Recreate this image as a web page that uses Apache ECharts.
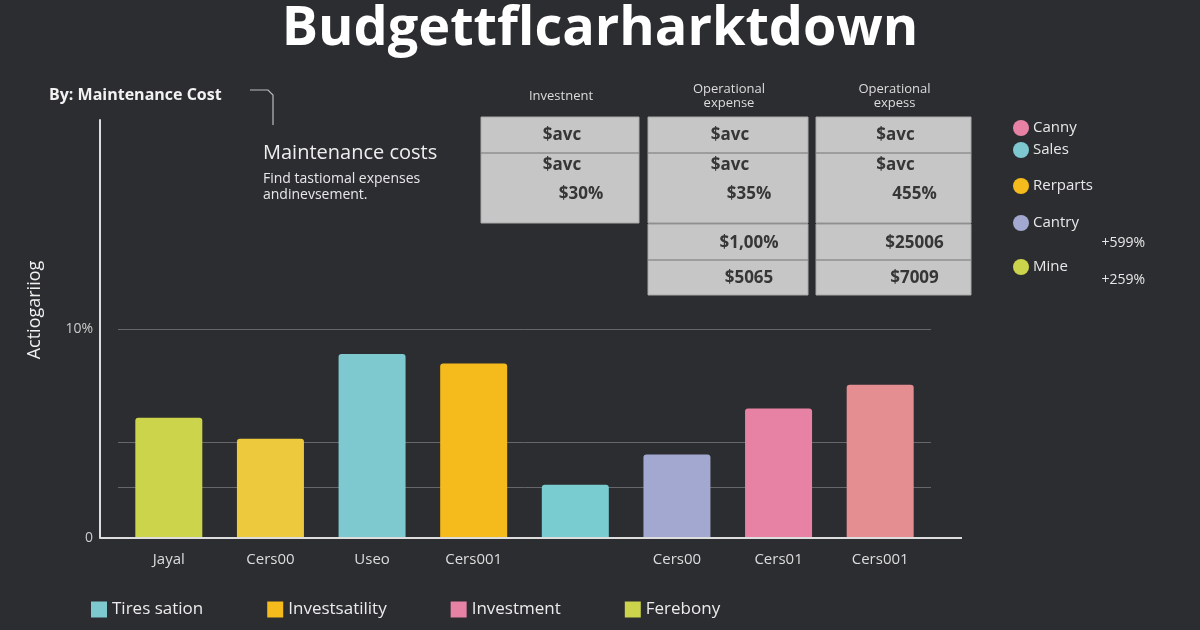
<!DOCTYPE html>
<html>

<head>
	<meta charset="utf-8" />
	<script src="https://cdn.jsdelivr.net/npm/echarts@6/dist/echarts.min.js"></script>
</head>

<title>
	Budget Breakdown
</title>

<body style="margin: 0; background-color: #2c2d31">
	<div id="main" style="width: 1200px; height: 630px;"></div>
</body>

<script type="text/javascript">
	// chart data
	var categories = ['Jayal', 'Cers00', 'Useo', 'Cers001', '', 'Cers00', 'Cers01', 'Cers001'];
	var values = [5.75, 4.75, 8.8, 8.35, 2.55, 4.0, 6.2, 7.33];
	var gridValues = [10, 4.58, 2.44];
	var yTickLabels = { 0: '0', 10: '10%' };

	var legendNames = ['Tires sation', 'Investsatility', 'Investment', 'Ferebony'];
	var sideNames = ['Canny', 'Sales', 'Rerparts', 'Cantry', 'Mine'];
	var sideNotes = ['+599%', '+259%'];

	var tableHeaders = ['Investnent', 'Operational\nexpense', 'Operational\nexpess'];
	var tableCells = [
		['$avc', '$avc', '$30%'],
		['$avc', '$avc', '$35%', '$1,00%', '$5065'],
		['$avc', '$avc', '455%', '$25006', '$7009']
	];

	// styles
	var barColors = ['#cbd44a', '#edc93e', '#7ec9cf', '#f5bb1c', '#79ccd0', '#a2a8cf', '#e882a5', '#e58e91'];
	var legendColors = ['#7ec9cf', '#f5bb1c', '#e882a5', '#cbd44a'];
	var sideColors = ['#e882a5', '#7ec9cf', '#f5bb1c', '#a2a8cf', '#cbd44a'];
	var font = '"Open Sans", sans-serif';

	var myChart = echarts.init(document.getElementById('main'));

	// side legend (circles)
	var sideY = [128, 150, 186, 223, 267];
	var graphics = [];
	sideNames.forEach(function (n, i) {
		graphics.push({
			type: 'circle', shape: { cx: 1021, cy: sideY[i], r: 8 },
			style: { fill: sideColors[i] }
		});
		graphics.push({
			type: 'text', x: 1033, y: sideY[i],
			style: { text: n, fill: '#e8e8e8', font: '15px ' + font, textVerticalAlign: 'middle' }
		});
	});
	graphics.push({
		type: 'text', x: 1145, y: 243,
		style: { text: sideNotes[0], fill: '#e8e8e8', font: '14px ' + font, textAlign: 'right', textVerticalAlign: 'middle' }
	});
	graphics.push({
		type: 'text', x: 1145, y: 280,
		style: { text: sideNotes[1], fill: '#e8e8e8', font: '14px ' + font, textAlign: 'right', textVerticalAlign: 'middle' }
	});

	// table boxes
	var colX = [481, 648, 816];
	var colW = [158, 160, 155];
	var rowY = [135.5, 165.5, 194.5, 243.5, 278];
	tableCells.forEach(function (cells, c) {
		var cx = colX[c] + colW[c] / 2;
		graphics.push({
			type: 'rect', shape: { x: colX[c], y: 117, width: colW[c], height: 106 },
			style: { fill: '#c6c6c6', stroke: '#a9a9a9', lineWidth: 1 }
		});
		graphics.push({
			type: 'line', shape: { x1: colX[c], y1: 153, x2: colX[c] + colW[c], y2: 153 },
			style: { stroke: '#8f8f8f', lineWidth: 1.5 }
		});
		if (cells.length > 3) {
			graphics.push({
				type: 'rect', shape: { x: colX[c], y: 224, width: colW[c], height: 71 },
				style: { fill: '#c6c6c6', stroke: '#a9a9a9', lineWidth: 1 }
			});
			graphics.push({
				type: 'line', shape: { x1: colX[c], y1: 223.5, x2: colX[c] + colW[c], y2: 223.5 },
				style: { stroke: '#8f8f8f', lineWidth: 1.5 }
			});
			graphics.push({
				type: 'line', shape: { x1: colX[c], y1: 260, x2: colX[c] + colW[c], y2: 260 },
				style: { stroke: '#8f8f8f', lineWidth: 1.5 }
			});
		}
		cells.forEach(function (t, r) {
			graphics.push({
				type: 'text', x: cx + (r < 2 ? 2 : 21), y: rowY[r],
				style: { text: t, fill: '#363636', font: 'bold 17px ' + font, textAlign: 'center', textVerticalAlign: 'middle' }
			});
		});
		graphics.push({
			type: 'text', x: cx + 1, y: 96,
			style: {
				text: tableHeaders[c], fill: '#dcdcdc', font: '13px ' + font, lineHeight: 14,
				textAlign: 'center', textVerticalAlign: 'middle'
			}
		});
	});

	// headings, notes, axis extras
	graphics.push(
		{
			type: 'text', x: 49, y: 95,
			style: { text: 'By: Maintenance Cost', fill: '#f2f2f2', font: 'bold 16px ' + font, textVerticalAlign: 'middle' }
		},
		{
			type: 'polyline', shape: { points: [[250, 90], [268, 90], [273, 95], [273, 125]] },
			style: { stroke: '#bbbbbb', lineWidth: 1.2, fill: null }
		},
		{
			type: 'text', x: 263, y: 153,
			style: { text: 'Maintenance costs', fill: '#eeeeee', font: '20px ' + font, textVerticalAlign: 'middle' }
		},
		{
			type: 'text', x: 263, y: 187,
			style: {
				text: 'Find tastiomal expenses\nandinevsement.', fill: '#e8e8e8', font: '14px ' + font,
				lineHeight: 16, textVerticalAlign: 'middle'
			}
		},
		{
			type: 'text', x: 35, y: 310, rotation: Math.PI / 2,
			style: { text: 'Actiogariiog', fill: '#f0f0f0', font: '500 18px ' + font, textAlign: 'center', textVerticalAlign: 'middle' }
		},
		{
			type: 'line', shape: { x1: 100, y1: 538, x2: 962, y2: 538 },
			style: { stroke: '#dddddd', lineWidth: 2 }, z: 10
		}
	);

	var option = {
		backgroundColor: '#2c2d31',
		title: {
			text: 'Budgettflcarharktdown',
			left: 'center',
			top: -2,
			textStyle: { color: '#ffffff', fontSize: 54, fontWeight: 'bold', fontFamily: font }
		},
		legend: {
			data: legendNames,
			left: 91,
			top: 601,
			padding: 0,
			icon: 'rect',
			itemWidth: 16,
			itemHeight: 16,
			itemGap: 64,
			textStyle: { color: '#ececec', fontSize: 17, fontFamily: font }
		},
		grid: { left: 118, right: 269, top: 120, bottom: 92 },
		xAxis: {
			type: 'category',
			data: categories,
			axisLine: { show: false },
			axisTick: { show: false },
			axisLabel: { color: '#dddddd', fontSize: 15, fontFamily: font, margin: 14 }
		},
		yAxis: {
			type: 'value',
			min: 0,
			max: 20,
			interval: 10,
			offset: 18,
			axisLine: { show: true, lineStyle: { color: '#dddddd', width: 2 } },
			axisTick: { show: false },
			splitLine: { show: false },
			axisLabel: {
				color: '#cccccc', fontSize: 14, fontFamily: font, margin: 7,
				formatter: function (v) { return yTickLabels[v] || ''; }
			}
		},
		graphic: graphics,
		series: [{
			type: 'bar',
			barWidth: 67,
			data: values.map(function (v, i) {
				return { value: v, itemStyle: { color: barColors[i], borderRadius: [3, 3, 0, 0] } };
			}),
			markLine: {
				silent: true,
				z: 1,
				symbol: 'none',
				label: { show: false },
				lineStyle: { color: '#66676b', width: 1, type: 'solid' },
				data: gridValues.map(function (v) { return { yAxis: v }; })
			}
		}].concat(legendNames.map(function (n, i) {
			return { type: 'line', name: n, data: [], itemStyle: { color: legendColors[i] } };
		}))
	};

	myChart.setOption(option);
</script>

</html>
